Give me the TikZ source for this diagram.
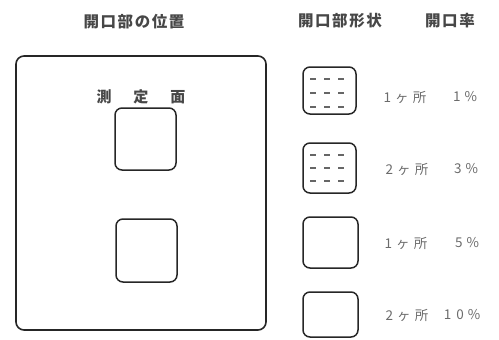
\documentclass[tikz,border=0pt]{standalone}
\usepackage{fontspec}
\newfontfamily\jp{Noto Sans CJK JP}
\newfontfamily\jpsp[LetterSpace=10]{Noto Sans CJK JP}
\newfontfamily\jpwide[LetterSpace=30]{Noto Sans CJK JP}
\begin{document}
\begin{tikzpicture}[x=1pt,y=-1pt,
  frame/.style={draw=black!85, line width=1.6pt, rounded corners=8pt},
  win/.style={draw=black!85, line width=1.5pt, rounded corners=7pt},
  head/.style={text=black!72, font=\jpsp\bfseries\fontsize{15.5}{17}\selectfont, inner sep=0pt},
  lab/.style={text=black!58, font=\jpwide\fontsize{13.5}{15}\selectfont, inner sep=0pt},
  dashmark/.style={draw=black!60, line width=1.6pt}]
\useasboundingbox (0,0) rectangle (499,340);
% headers
\node[head] (h1) at (134,22) {開口部の位置};
\node[head] (h2) at (340,21) {開口部形状};
\node[head] (h3) at (450,21) {開口率};
% measurement surface
\draw[frame] (16,56) rectangle (266,330);
\node[head, font=\jp\bfseries\fontsize{15}{17}\selectfont] (m) at (141,97) {測\hspace{22pt}定\hspace{22pt}面};
\draw[win] (115,108) rectangle (176,170);
\draw[win] (116,219) rectangle (177,282);
% shape column
\draw[win] (303,67) rectangle (356,114);
\draw[win] (303,143) rectangle (356,193);
\draw[win] (303,217) rectangle (358,268);
\draw[win] (303,292) rectangle (358,337);
\foreach \yy in {79,93,107}{
  \foreach \xx in {313,327,341}{
    \draw[dashmark] (\xx-3,\yy) -- (\xx+3,\yy);
  }
}
\foreach \yy in {155,168,181}{
  \foreach \xx in {313,327,341}{
    \draw[dashmark] (\xx-3,\yy) -- (\xx+3,\yy);
  }
}
% labels
\node[lab] (a1) at (405,97) {1ヶ所};
\node[lab] (b1) at (465,97) {1\%};
\node[lab] (a2) at (407,169) {2ヶ所};
\node[lab] (b2) at (466,169) {3\%};
\node[lab] (a3) at (406,243) {1ヶ所};
\node[lab] (b3) at (467,243) {5\%};
\node[lab] (a4) at (407,315) {2ヶ所};
\node[lab] (b4) at (462,315) {1\hspace{5pt}0\%};
\end{tikzpicture}
\end{document}
